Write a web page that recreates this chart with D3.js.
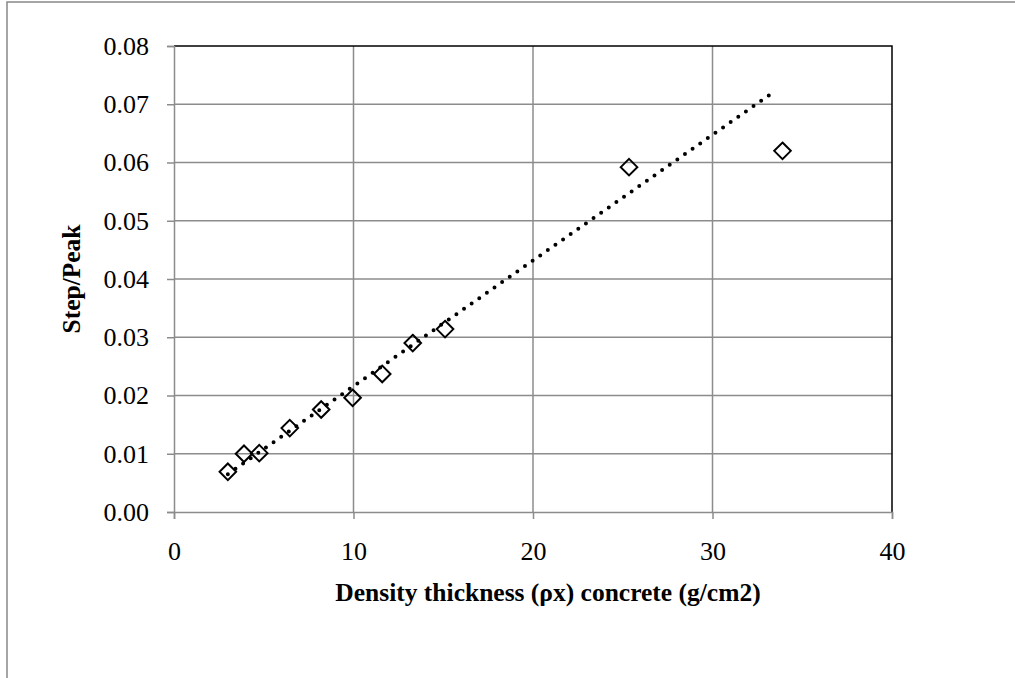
<!DOCTYPE html>
<html>
<head>
<meta charset="utf-8">
<script src="https://cdn.jsdelivr.net/npm/d3@7"></script>
<style>
  html, body { margin: 0; padding: 0; background: #fff; }
  svg { display: block; }
</style>
</head>
<body>
<script>
// Measured density thickness of concrete samples (g/cm2)
const thickness = [3.0, 3.9, 4.75, 6.45, 8.2, 9.95, 11.6, 13.3, 15.1, 25.35, 33.9];
// Step/Peak ratio at each thickness
const stepPeak = [0.0069, 0.0100, 0.0101, 0.0144, 0.0176, 0.0196, 0.0237, 0.0290, 0.0314, 0.0592, 0.0620];

// Linear trend line end points (x, y)
const trendX = [3.0, 33.5];
const trendY = [0.0065, 0.0723];

const xTicks = [0, 10, 20, 30, 40];
const yTicks = [0, 0.01, 0.02, 0.03, 0.04, 0.05, 0.06, 0.07, 0.08];

const W = 1015, H = 678;
const margin = { left: 174, top: 46, right: 1015 - 892, bottom: 678 - 512 };

const svg = d3.select("body").append("svg")
  .attr("width", W).attr("height", H);

// outer chart frame
svg.append("rect")
  .attr("x", 7).attr("y", 2)
  .attr("width", W + 20).attr("height", H + 20)
  .attr("fill", "#fff")
  .attr("stroke", "#888").attr("stroke-width", 1.5);

const x = d3.scaleLinear().domain([0, 40]).range([margin.left, W - margin.right]);
const y = d3.scaleLinear().domain([0, 0.08]).range([H - margin.bottom, margin.top]);

const font = "'Liberation Serif', 'Times New Roman', serif";
const tickFont = 26;
const titleFont = 25.5;

// horizontal grid lines
svg.append("g")
  .selectAll("line").data(yTicks.slice(1, -1)).join("line")
  .attr("x1", x(0)).attr("x2", x(40))
  .attr("y1", d => y(d)).attr("y2", d => y(d))
  .attr("stroke", "#8c8c8c").attr("stroke-width", 1.5);

// vertical grid lines
svg.append("g")
  .selectAll("line").data(xTicks.slice(1, -1)).join("line")
  .attr("y1", y(0)).attr("y2", y(0.08))
  .attr("x1", d => x(d)).attr("x2", d => x(d))
  .attr("stroke", "#8c8c8c").attr("stroke-width", 1.5);

// plot area top and right border
svg.append("path")
  .attr("d", `M${x(0)},${y(0.08)}H${x(40)}V${y(0)}`)
  .attr("fill", "none").attr("stroke", "#000").attr("stroke-width", 1.5);

// y axis
const yAxis = svg.append("g")
  .attr("transform", `translate(${x(0)},0)`)
  .call(d3.axisLeft(y).tickValues(yTicks).tickFormat(d3.format(".2f")).tickSizeOuter(0).tickSize(7).tickPadding(18));
yAxis.select(".domain").attr("stroke", "#8c8c8c").attr("stroke-width", 1.5);
yAxis.selectAll(".tick line").attr("stroke", "#8c8c8c").attr("stroke-width", 1.5);
yAxis.selectAll(".tick text").attr("font-family", font).attr("font-size", tickFont).attr("fill", "#000");

// x axis
const xAxis = svg.append("g")
  .attr("transform", `translate(0,${y(0)})`)
  .call(d3.axisBottom(x).tickValues(xTicks).tickFormat(d3.format("d")).tickSizeOuter(0).tickSize(7).tickPadding(23));
xAxis.select(".domain").attr("stroke", "#8c8c8c").attr("stroke-width", 1.5);
xAxis.selectAll(".tick line").attr("stroke", "#8c8c8c").attr("stroke-width", 1.5);
xAxis.selectAll(".tick text").attr("font-family", font).attr("font-size", tickFont).attr("fill", "#000");

// data markers (open diamonds)
const diamond = d3.symbol().type(d3.symbolDiamond2).size(175);
svg.append("g")
  .selectAll("path").data(thickness).join("path")
  .attr("d", diamond)
  .attr("transform", (d, i) => `translate(${x(d)},${y(stepPeak[i])})`)
  .attr("fill", "none").attr("stroke", "#000").attr("stroke-width", 2);

// dotted linear trend line
svg.append("path")
  .datum(trendX.map((d, i) => [d, trendY[i]]))
  .attr("d", d3.line().x(d => x(d[0])).y(d => y(d[1])))
  .attr("fill", "none").attr("stroke", "#000")
  .attr("stroke-width", 4).attr("stroke-linecap", "round")
  .attr("stroke-dasharray", "0 9.3");

// axis titles
svg.append("text")
  .attr("x", 548).attr("y", 601)
  .attr("text-anchor", "middle")
  .attr("font-family", font).attr("font-size", titleFont).attr("font-weight", "bold")
  .text("Density thickness (ρx) concrete (g/cm2)");

svg.append("text")
  .attr("transform", `translate(80,${(y(0) + y(0.08)) / 2}) rotate(-90)`)
  .attr("text-anchor", "middle")
  .attr("font-family", font).attr("font-size", titleFont).attr("font-weight", "bold")
  .text("Step/Peak");
</script>
</body>
</html>
